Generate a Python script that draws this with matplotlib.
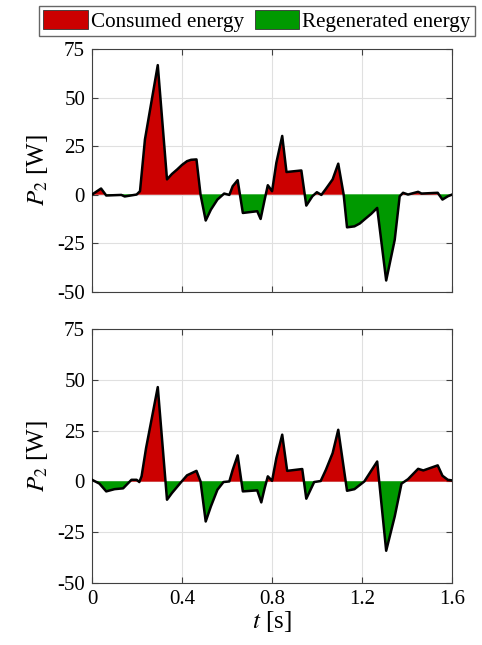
import numpy as np
import matplotlib
matplotlib.use("Agg")
import matplotlib.pyplot as plt
from matplotlib.patches import Patch

plt.rcParams['font.family'] = ['Liberation Serif', 'DejaVu Serif']
plt.rcParams['mathtext.fontset'] = 'stix'

# top panel samples (time [s], power [W])
t_top = [0.0, 0.04, 0.063, 0.13, 0.145, 0.198, 0.213, 0.235, 0.292, 0.333, 0.355,
         0.378, 0.40, 0.422, 0.44, 0.464, 0.482, 0.505, 0.528, 0.557, 0.587, 0.61,
         0.625, 0.647, 0.67, 0.734, 0.749, 0.767, 0.781, 0.8, 0.819, 0.845, 0.864,
         0.93, 0.952, 0.979, 0.999, 1.019, 1.039, 1.069, 1.094, 1.118, 1.133, 1.166,
         1.19, 1.21, 1.24, 1.267, 1.307, 1.345, 1.367, 1.382, 1.404, 1.449, 1.464,
         1.536, 1.557, 1.581, 1.6]
p_top = [0.0, 3.1, -0.5, -0.2, -1.0, 0.0, 1.7, 28.4, 66.7, 7.8, 10.6,
         12.9, 15.3, 17.2, 17.9, 18.1, 0.0, -13.4, -7.8, -2.6, 0.5, -0.2,
         4.3, 7.4, -9.5, -8.6, -12.6, -2.6, 4.8, 1.7, 16.4, 30.2, 11.6,
         12.4, -5.7, -0.9, 1.2, -0.2, 2.9, 7.8, 15.9, 0.0, -16.9, -16.4,
         -14.9, -12.9, -10.0, -6.9, -44.3, -23.3, -0.9, 0.9, 0.0, 1.4, 0.5,
         0.9, -2.6, -0.9, 0.0]

# bottom panel samples
t_bot = [0.0, 0.033, 0.063, 0.1, 0.138, 0.175, 0.198, 0.21, 0.22, 0.24, 0.292,
         0.333, 0.355, 0.396, 0.422, 0.464, 0.482, 0.505, 0.528, 0.557, 0.584,
         0.61, 0.625, 0.647, 0.67, 0.734, 0.752, 0.767, 0.781, 0.8, 0.819, 0.845,
         0.867, 0.934, 0.952, 0.987, 1.016, 1.039, 1.069, 1.094, 1.133, 1.166,
         1.21, 1.267, 1.307, 1.345, 1.375, 1.404, 1.449, 1.472, 1.536, 1.557,
         1.581, 1.6]
p_bot = [0.8, -1.1, -4.9, -3.8, -3.4, 0.8, 0.8, -0.3, 2.5, 16.4, 46.4,
         -9.0, -5.7, -0.3, 3.0, 5.2, 0.0, -19.7, -12.3, -4.1, -0.3,
         0.0, 5.7, 12.8, -4.9, -4.4, -10.3, -3.3, 2.5, 0.3, 11.5, 23.0,
         5.2, 6.1, -8.5, -0.3, 0.2, 5.7, 13.9, 25.4, -4.6, -3.8,
         0.0, 9.8, -34.1, -17.2, -1.1, 1.1, 6.2, 5.4, 7.9, 2.8,
         0.8, 0.5]

x_ticks = [0, 0.4, 0.8, 1.2, 1.6]
x_labels = ['0', '0.4', '0.8', '1.2', '1.6']
y_ticks = [-50, -25, 0, 25, 50, 75]

red = '#cc0000'
green = '#009900'

fig = plt.figure(figsize=(4.82, 6.45), dpi=100)
ax1 = fig.add_axes([0.191, 0.548, 0.747, 0.376])
ax2 = fig.add_axes([0.191, 0.096, 0.747, 0.394])


def draw_panel(ax, t, p, show_x):
    t = np.array(t)
    p = np.array(p)
    ax.fill_between(t, p, 0, where=p >= 0, interpolate=True, color=red, lw=0.3)
    ax.fill_between(t, p, 0, where=p <= 0, interpolate=True, color=green, lw=0.3)
    ax.plot(t, p, color='black', lw=1.8, zorder=3)
    ax.set_xlim(0, 1.6)
    ax.set_ylim(-50, 75)
    ax.set_xticks(x_ticks)
    ax.set_yticks(y_ticks)
    ax.set_yticklabels([str(v) for v in y_ticks])
    if show_x:
        ax.set_xticklabels(x_labels)
        ax.set_xlabel(r'$t$ [s]', fontsize=18, labelpad=0)
    else:
        ax.set_xticklabels([])
    ax.set_ylabel(r'$P_2$ [W]', fontsize=18, labelpad=5)
    ax.grid(True, color='#e0e0e0', lw=0.8)
    ax.set_axisbelow(True)
    ax.tick_params(direction='in', length=4, labelsize=15, color='#404040',
                   top=True, right=True, pad=5)
    for s in ax.spines.values():
        s.set_color('#404040')
        s.set_linewidth(0.8)


draw_panel(ax1, t_top, p_top, False)
draw_panel(ax2, t_bot, p_bot, True)

handles = [Patch(facecolor=red, edgecolor='#333333', lw=0.6, label='Consumed energy'),
           Patch(facecolor=green, edgecolor='#333333', lw=0.6, label='Regenerated energy')]
fig.legend(handles=handles, loc='upper center', bbox_to_anchor=(0.533, 0.997), ncol=2,
           fontsize=15.2, frameon=True, fancybox=False, edgecolor='#404040',
           handlelength=2.1, handleheight=1.0, handletextpad=0.15,
           columnspacing=0.5, borderpad=0.2, borderaxespad=0.2)

fig.savefig('out.png', dpi=100)
